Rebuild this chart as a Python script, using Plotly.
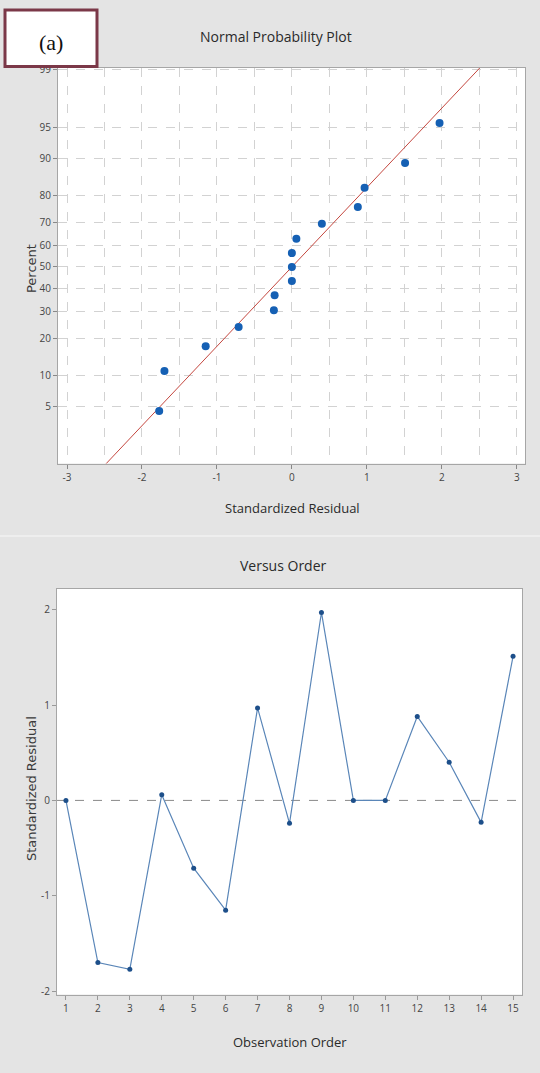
from statistics import NormalDist, mean, stdev
import plotly.graph_objects as go

W, H = 540, 1073

# ---- data ----
observation_order = list(range(1, 16))
std_residual = [0.0, -1.70, -1.77, 0.06, -0.71, -1.15, 0.97, -0.24, 1.97, 0.0, 0.0, 0.88, 0.40, -0.23, 1.51]
npp_percent = [4.5, 11.0, 17.5, 24.0, 30.5, 37.0, 43.5, 50.0, 56.5, 63.0, 69.5, 76.0, 82.5, 89.0, 95.5]
percent_ticks = [1, 5, 10, 20, 30, 40, 50, 60, 70, 80, 90, 95, 99]
resid_ticks_npp = [-3, -2, -1, 0, 1, 2, 3]
order_ticks = list(range(1, 16))
resid_ticks_order = [-2, -1, 0, 1, 2]

nd = NormalDist()
def z(p):
    return nd.inv_cdf(p / 100.0)

npp_x = sorted(std_residual)
npp_z = [z(p) for p in npp_percent]
mu, sd = mean(std_residual), stdev(std_residual)
fit_pct = [0.5, 99.5]
fit_z = [z(p) for p in fit_pct]
fit_x = [mu + sd * v for v in fit_z]

def px(x):
    return x / W
def py(y):
    return 1 - y / H

BG = "#e4e4e4"
TXT = "#3a3a3a"
TICKF = dict(family="Open Sans, sans-serif", size=10, color="#444")
TITLEF = dict(family="Open Sans, sans-serif", size=14, color="#2a2a2a")
GRID = "#d2d2d2"

fig = go.Figure()

fig.add_trace(go.Scatter(x=fit_x, y=fit_z, mode="lines", line=dict(color="#c4473f", width=1),
                         xaxis="x", yaxis="y", showlegend=False, hoverinfo="skip"))
fig.add_trace(go.Scatter(x=npp_x, y=npp_z, mode="markers",
                         marker=dict(color="#1560b4", size=8, symbol="circle"),
                         xaxis="x", yaxis="y", showlegend=False))
fig.add_trace(go.Scatter(x=observation_order, y=std_residual, mode="lines+markers",
                         line=dict(color="#5a86b8", width=1.2),
                         marker=dict(color="#1d4f8a", size=5, symbol="circle"),
                         xaxis="x2", yaxis="y2", showlegend=False))

fig.update_layout(
    width=W, height=H, margin=dict(l=0, r=0, t=0, b=0),
    paper_bgcolor=BG, plot_bgcolor="white",
    xaxis=dict(domain=[px(58), px(525)], range=[-3.12, 3.11], anchor="y",
               tickvals=resid_ticks_npp, ticktext=[str(v) for v in resid_ticks_npp],
               showgrid=True, gridcolor=GRID, griddash="dash", gridwidth=1,
               minor=dict(dtick=0.5, tick0=0, showgrid=True, gridcolor=GRID, griddash="dash", ticks=""),
               ticks="outside", ticklen=4, tickcolor="#888", tickfont=TICKF,
               showline=True, linecolor="#a6a6a6", mirror=True, zeroline=False),
    yaxis=dict(domain=[py(462), py(63)], range=[-2.316, 2.35], anchor="x",
               tickvals=[z(p) for p in percent_ticks], ticktext=[str(p) for p in percent_ticks],
               showgrid=True, gridcolor=GRID, griddash="dash", gridwidth=1,
               ticks="outside", ticklen=4, tickcolor="#888", tickfont=TICKF,
               showline=True, linecolor="#a6a6a6", mirror=True, zeroline=False),
    xaxis2=dict(domain=[px(57), px(522)], range=[0.72, 15.28], anchor="y2",
                tickvals=order_ticks, ticktext=[str(v) for v in order_ticks],
                showgrid=False, ticks="outside", ticklen=4, tickcolor="#999", tickfont=TICKF,
                showline=True, linecolor="#a6a6a6", mirror=True, zeroline=False),
    yaxis2=dict(domain=[py(997), py(588)], range=[-2.035, 2.22], anchor="x2",
                tickvals=resid_ticks_order, ticktext=[str(v) for v in resid_ticks_order],
                showgrid=False, ticks="outside", ticklen=4, tickcolor="#999", tickfont=TICKF,
                showline=True, linecolor="#a6a6a6", mirror=True, zeroline=False),
)

shapes = [
    # separator between panels
    dict(type="line", xref="paper", yref="paper", x0=0, x1=1, y0=py(535), y1=py(535),
         line=dict(color="#f2f2f2", width=1.5), layer="below"),
    # zero reference line
    dict(type="line", xref="x2 domain", yref="y2", x0=0, x1=1, y0=0, y1=0,
         line=dict(color="#8a8a8a", width=1, dash="dash"), layer="below"),
    # (a) label box
    dict(type="rect", xref="paper", yref="paper", x0=px(5), x1=px(97), y0=py(62), y1=py(5),
         fillcolor="white", line=dict(color="#7b3848", width=3)),
]
fig.update_layout(shapes=shapes)

ann = [
    dict(text="(a)", x=px(51), y=py(38), font=dict(family="Liberation Serif, serif", size=22, color="#111")),
    dict(text="Normal Probability Plot", x=px(276), y=py(32), font=TITLEF),
    dict(text="Standardized Residual", x=px(292), y=py(507), font=dict(TITLEF, size=13)),
    dict(text="Percent", x=px(31), y=py(266), textangle=-90,
         font=dict(family="DejaVu Sans, sans-serif", size=13, color=TXT)),
    dict(text="Versus Order", x=px(283), y=py(565), font=TITLEF),
    dict(text="Observation Order", x=px(290), y=py(1045), font=dict(TITLEF, size=13)),
    dict(text="Standardized Residual", x=px(31), y=py(790), textangle=-90,
         font=dict(family="DejaVu Sans, sans-serif", size=13, color=TXT)),
]
for a in ann:
    a.update(xref="paper", yref="paper", showarrow=False, xanchor="center", yanchor="middle")
fig.update_layout(annotations=ann)

fig.write_html("out.html", config={"displayModeBar": False},
               post_script="document.body.style.margin='0';document.body.style.overflow='hidden';")
